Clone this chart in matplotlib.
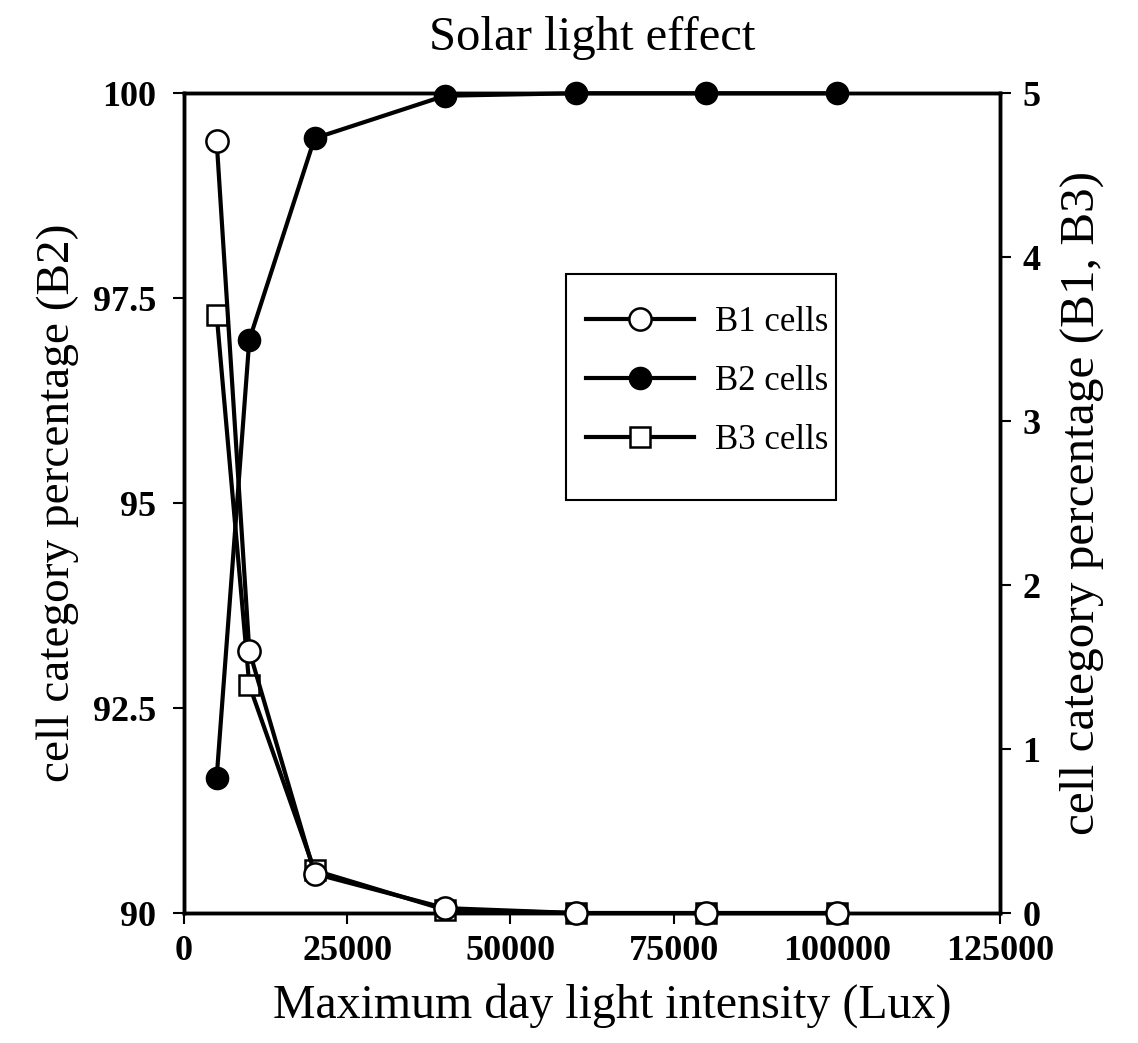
import matplotlib
matplotlib.use('Agg')
import matplotlib.pyplot as plt
from matplotlib.patches import Rectangle

plt.rcParams['font.family'] = ['Liberation Serif', 'DejaVu Serif']

# light intensity (Lux)
lux = [5000, 10000, 20000, 40000, 60000, 80000, 100000]
# B2 on left axis (%), B1 and B3 on right axis (%)
b2 = [91.65, 96.99, 99.45, 99.97, 100.0, 100.0, 100.0]
b1 = [4.71, 1.60, 0.24, 0.03, 0.0, 0.0, 0.0]
b3 = [3.65, 1.39, 0.26, 0.02, 0.0, 0.0, 0.0]

x_ticks = [0, 25000, 50000, 75000, 100000, 125000]
left_ticks = [90, 92.5, 95, 97.5, 100]
left_labels = ['90', '92.5', '95', '97.5', '100']
right_ticks = [0, 1, 2, 3, 4, 5]

fig = plt.figure(figsize=(11.38, 10.43), dpi=100)
ax = fig.add_axes([0.1617, 0.1246, 0.717, 0.786])
ax2 = ax.twinx()

lw = 3
ms = 16
h2, = ax.plot(lux, b2, '-o', color='black', lw=lw, ms=ms, mfc='black', mec='black',
              label='B2 cells', clip_on=False, zorder=3)
h3, = ax2.plot(lux, b3, '-s', color='black', lw=lw, ms=ms - 1, mfc='white', mec='black',
               mew=1.8, label='B3 cells', clip_on=False, zorder=3)
h1, = ax2.plot(lux, b1, '-o', color='black', lw=lw, ms=ms, mfc='white', mec='black',
               mew=1.8, label='B1 cells', clip_on=False, zorder=4)

ax.set_xlim(0, 125000)
ax.set_ylim(90, 100)
ax2.set_ylim(0, 5)

ax.set_xticks(x_ticks)
ax.set_xticklabels([str(t) for t in x_ticks])
ax.set_yticks(left_ticks)
ax.set_yticklabels(left_labels)
ax2.set_yticks(right_ticks)
ax2.set_yticklabels([str(t) for t in right_ticks])

for a in (ax, ax2):
    a.tick_params(direction='out', length=8, width=1.5, labelsize=26, pad=8)
    for lab in a.get_xticklabels() + a.get_yticklabels():
        lab.set_fontweight('bold')
    for sp in a.spines.values():
        sp.set_linewidth(2.5)
ax.tick_params(axis='y', pad=12)

ax.set_xlabel('Maximum day light intensity (Lux)', fontsize=34.5)
ax.xaxis.set_label_coords(0.525, -0.085)
ax.set_ylabel('cell category percentage (B2)', fontsize=34, labelpad=10)
ax2.set_ylabel('cell category percentage (B1, B3)', fontsize=35.5, labelpad=14)
ax.set_title('Solar light effect', fontsize=35, pad=31)

# legend with the boxed frame drawn separately (extra blank space at the bottom)
ax2.add_patch(Rectangle((0.468, 0.504), 0.331, 0.276, transform=ax2.transAxes,
                        fill=False, edgecolor='black', lw=1.5, zorder=5))
ax2.legend(handles=[h1, h2, h3], loc='upper left', bbox_to_anchor=(0.463, 0.77),
           frameon=False, fontsize=25, handlelength=3.1, handletextpad=0.6,
           labelspacing=0.75, borderpad=0.2)

fig.savefig('out.png', dpi=100)
